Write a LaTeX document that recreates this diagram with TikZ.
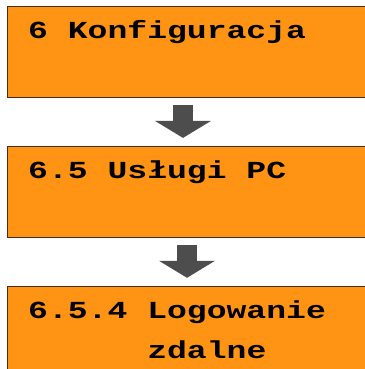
\documentclass[tikz,border=0pt]{standalone}
\usepackage{fontspec}
\newfontfamily\lcdfont[FakeStretch=1.35]{Liberation Mono Bold}
\usepackage{tikz}
\usetikzlibrary{positioning,arrows.meta}
\definecolor{menuorange}{RGB}{255,148,20}
\definecolor{menuedge}{RGB}{70,45,20}
\definecolor{arrowgray}{RGB}{77,77,77}

\begin{document}
\begin{tikzpicture}[
    x=1pt, y=-1pt,
    node distance=48pt,
    menubox/.style={draw=menuedge, fill=menuorange, line width=0.9pt,
        minimum width=362pt, minimum height=91pt, inner sep=0pt},
    menutxt/.style={anchor=base west, inner sep=0pt, align=left,
        font=\lcdfont\fontsize{24.5}{39.5}\selectfont},
    downarrow/.style={draw=arrowgray, line width=20pt,
        -{Triangle[width=56pt,length=17pt,line width=0pt]}}
]
\useasboundingbox (0,0) rectangle (364,369);
\node[menubox, anchor=north west] (m1) at (7,6) {};
\node[menubox, below=of m1] (m2) {};
\node[menubox, below=of m2] (m3) {};
\node[menutxt] (t1) at ([shift={(21,32.5)}]m1.north west) {6 Konfiguracja};
\node[menutxt] (t2) at ([shift={(21,33)}]m2.north west) {6.5 Usługi PC};
\node[menutxt] (t3) at ([shift={(21,72.2)}]m3.north west)
    {6.5.4 Logowanie\\\phantom{6.5.4 }zdalne};
\coordinate (a1s) at ([yshift=-7pt]m1.south -| 183,0);
\coordinate (a1e) at ([yshift=8pt]m2.north -| 183,0);
\coordinate (a2s) at ([yshift=-7pt]m2.south -| 187,0);
\coordinate (a2e) at ([yshift=8pt]m3.north -| 187,0);
\draw[downarrow] (a1s) -- (a1e);
\draw[downarrow] (a2s) -- (a2e);
\end{tikzpicture}
\end{document}
